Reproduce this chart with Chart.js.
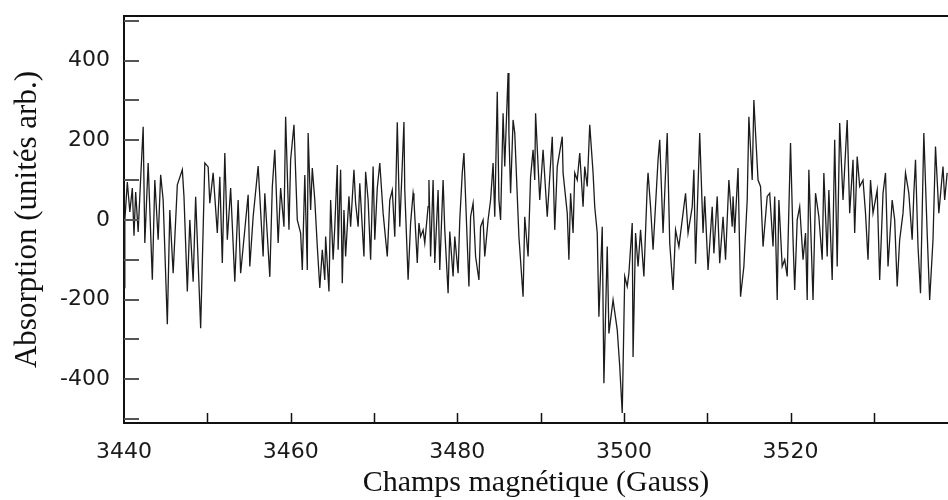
<!DOCTYPE html>
<html>
<head>
<meta charset="utf-8">
<script src="https://cdn.jsdelivr.net/npm/chart.js@4.4.1/dist/chart.umd.min.js"></script>
<style>
  html, body { margin: 0; padding: 0; background: #fff; }
  #wrap { width: 948px; height: 500px; }
</style>
</head>
<body>
<div id="wrap"><canvas id="myChart"></canvas></div>
<script>
// magnetic field (Gauss)
const field = [
  3440.0,3440.1,3440.4,3440.7,3441.0,3441.2,3441.4,3441.7,3441.9,3442.3,
  3442.5,3442.9,3443.4,3443.7,3444.1,3444.4,3444.7,3445.2,3445.5,3445.9,
  3446.4,3447.0,3447.2,3447.6,3447.9,3448.3,3448.6,3449.2,3449.7,3450.1,
  3450.3,3450.7,3451.2,3451.5,3451.8,3452.1,3452.4,3452.8,3453.3,3453.7,
  3454.0,3454.9,3455.1,3455.5,3456.1,3456.7,3456.9,3457.5,3457.8,3458.1,
  3458.5,3458.8,3459.2,3459.4,3459.8,3460.0,3460.4,3460.8,3461.2,3461.4,
  3461.7,3462.0,3462.1,3462.4,3462.6,3462.9,3463.2,3463.5,3463.8,3464.1,
  3464.2,3464.6,3464.8,3465.1,3465.3,3465.6,3465.7,3466.0,3466.2,3466.4,
  3466.6,3467.0,3467.2,3467.6,3467.8,3468.1,3468.3,3468.8,3469.0,3469.3,
  3469.6,3469.9,3470.1,3470.4,3470.7,3471.1,3471.6,3471.9,3472.2,3472.5,
  3472.8,3473.1,3473.4,3473.6,3473.7,3474.1,3474.4,3474.7,3474.8,3475.2,
  3475.4,3475.6,3475.9,3476.1,3476.5,3476.6,3476.8,3477.1,3477.3,3477.7,
  3477.9,3478.3,3478.5,3478.9,3479.1,3479.5,3479.7,3480.1,3480.3,3480.6,
  3480.8,3481.2,3481.4,3481.6,3481.9,3482.2,3482.6,3482.8,3483.1,3483.3,
  3483.7,3484.0,3484.3,3484.5,3484.8,3485.0,3485.2,3485.5,3485.7,3486.1,
  3486.2,3486.4,3486.7,3486.9,3487.4,3487.9,3488.1,3488.5,3488.8,3489.1,
  3489.3,3489.4,3489.9,3490.3,3490.8,3491.4,3491.7,3492.0,3492.6,3492.7,
  3493.2,3493.4,3493.6,3493.9,3494.1,3494.4,3494.7,3495.1,3495.3,3495.6,
  3495.9,3496.3,3496.5,3496.8,3497.0,3497.4,3497.6,3498.0,3498.2,3498.7,
  3499.2,3499.5,3499.8,3500.1,3500.4,3500.6,3501.0,3501.1,3501.4,3501.7,
  3502.0,3502.4,3502.8,3502.9,3503.2,3503.5,3503.7,3504.1,3504.3,3504.7,
  3505.2,3505.5,3505.9,3506.2,3506.6,3507.1,3507.4,3507.7,3508.2,3508.4,
  3508.6,3509.1,3509.5,3509.7,3510.1,3510.6,3510.8,3511.2,3511.5,3511.9,
  3512.2,3512.6,3513.0,3513.1,3513.3,3513.7,3514.0,3514.4,3514.8,3515.0,
  3515.4,3515.6,3515.8,3516.1,3516.4,3516.7,3517.2,3517.5,3517.9,3518.1,
  3518.4,3518.6,3519.0,3519.3,3519.6,3520.0,3520.3,3520.5,3520.8,3521.1,
  3521.5,3521.8,3522.0,3522.2,3522.7,3523.0,3523.4,3523.8,3524.0,3524.4,
  3524.6,3525.0,3525.3,3525.6,3525.9,3526.3,3526.8,3527.1,3527.5,3527.7,
  3528.0,3528.3,3528.7,3529.0,3529.3,3529.6,3529.9,3530.4,3530.7,3531.1,
  3531.4,3531.7,3532.2,3532.5,3532.8,3533.1,3533.5,3533.8,3534.2,3534.6,
  3534.8,3535.0,3535.3,3535.6,3536.0,3536.4,3536.7,3537.1,3537.4,3537.8,
  3538.3,3538.5,3538.8
];

// absorption (arb. units)
const absorption = [
  -170,0,95,20,80,-40,70,-30,60,234,
  -58,143,-150,100,-50,113,50,-262,25,-134,
  88,126,58,-180,0,-155,58,-272,143,133,
  42,118,-33,108,-108,168,-50,80,-155,50,
  -134,63,-117,8,135,-92,67,-143,83,176,
  -58,80,-17,259,-25,151,239,0,-33,-126,
  113,-126,218,25,130,50,-67,-171,-75,-151,
  -42,-180,50,-100,-17,138,-75,126,-159,25,
  -92,59,-17,126,42,-17,92,-92,121,50,
  -100,134,-50,80,143,17,-92,50,75,-42,
  245,-17,138,246,75,-150,-8,67,50,-108,
  -8,-42,-25,-58,33,100,-92,100,-108,75,
  -126,100,-25,-184,-29,-142,-42,-134,0,118,
  168,-58,-167,8,42,-92,-151,-17,0,-92,
  0,50,143,8,322,50,0,268,134,369,
  218,67,251,218,-42,-193,8,-92,108,176,
  100,268,50,176,8,209,-25,134,209,118,
  17,-100,67,-33,118,100,168,33,134,84,
  239,118,33,-33,-243,-17,-410,-67,-285,-201,
  -276,-368,-485,-142,-167,-134,-8,-344,-33,-117,
  -25,-142,84,118,33,-75,0,151,201,-33,
  218,-58,-176,-25,-67,17,67,-33,33,126,
  -110,218,-33,59,-126,33,-84,59,-109,8,
  -100,100,-17,59,-33,130,-193,-117,50,259,
  100,301,218,100,84,-67,59,67,-67,59,
  -201,50,-117,-100,-142,193,-50,-176,0,33,
  -100,-33,-201,126,-201,67,8,-100,118,-92,
  75,-151,201,-117,243,50,251,17,151,-33,
  159,84,100,17,-100,100,17,75,-151,67,
  118,-117,50,0,-167,-50,17,118,67,-50,
  67,151,-67,-184,218,-33,-201,-50,184,17,
  134,50,118
];

const xTickLabels = [3440, 3460, 3480, 3500, 3520];
const yTickLabels = [-400, -200, 0, 200, 400];

const xTitle = 'Champs magnétique (Gauss)';
const yTitle = 'Absorption (unités arb.)';

// inward tick marks + top frame line
const innerTicks = {
  id: 'innerTicks',
  afterDraw(chart) {
    const { ctx, chartArea: a, scales: { x, y } } = chart;
    ctx.save();
    ctx.strokeStyle = '#111';
    ctx.lineWidth = 2;
    ctx.beginPath();
    ctx.moveTo(a.left, a.top);
    ctx.lineTo(a.right, a.top);
    ctx.stroke();

    ctx.lineWidth = 1.5;
    ctx.beginPath();
    x.ticks.forEach(t => {
      const px = Math.round(x.getPixelForValue(t.value)) + 0.5;
      if (px < a.left + 3) return;
      ctx.moveTo(px, a.bottom);
      ctx.lineTo(px, a.bottom - 10);
    });
    ctx.stroke();

    ctx.strokeStyle = '#555';
    ctx.lineWidth = 2;
    ctx.beginPath();
    y.ticks.forEach(t => {
      const py = Math.round(y.getPixelForValue(t.value));
      ctx.moveTo(a.left, py);
      ctx.lineTo(a.left + 15, py);
    });
    ctx.stroke();
    ctx.restore();
  }
};

const ctx = document.getElementById('myChart');
const myChart = new Chart(ctx, {
  type: 'line',
  data: {
    datasets: [{
      label: 'Absorption',
      data: field.map((f, i) => ({ x: f, y: absorption[i] })),
      borderColor: '#1c1c1c',
      borderWidth: 1.3,
      pointRadius: 0,
      tension: 0,
      fill: false
    }]
  },
  options: {
    responsive: true,
    maintainAspectRatio: false,
    animation: false,
    layout: { padding: { top: 16, right: 0, left: 0, bottom: 0 } },
    plugins: {
      legend: { display: false },
      tooltip: { enabled: false }
    },
    scales: {
      x: {
        type: 'linear',
        min: 3440,
        max: 3538.9,
        grid: { display: false, drawTicks: false },
        border: { display: true, color: '#111', width: 2 },
        ticks: {
          stepSize: 10,
          includeBounds: false,
          maxRotation: 0,
          autoSkip: false,
          padding: 16,
          color: '#1a1a1a',
          font: { family: 'DejaVu Sans', size: 22 },
          callback: v => xTickLabels.includes(v) ? String(v) : ''
        },
        title: {
          display: true,
          text: xTitle,
          color: '#111',
          font: { family: 'Liberation Serif', size: 30, lineHeight: 1 },
          padding: { top: 0, bottom: 2 }
        },
        afterFit: s => { s.height = 77; s.paddingLeft = 0; s.paddingRight = 0; }
      },
      y: {
        min: -510,
        max: 512,
        grid: { display: false, drawTicks: false },
        border: { display: true, color: '#111', width: 2 },
        ticks: {
          stepSize: 100,
          includeBounds: false,
          autoSkip: false,
          padding: 14,
          color: '#1a1a1a',
          font: { family: 'DejaVu Sans', size: 22 },
          callback: v => yTickLabels.includes(v) ? String(v) : ''
        },
        title: {
          display: true,
          text: yTitle,
          color: '#111',
          font: { family: 'Liberation Serif', size: 31, lineHeight: 1 },
          padding: { top: 12, bottom: 0 }
        },
        afterFit: s => { s.width = 124; s.paddingTop = 0; s.paddingBottom = 0; }
      }
    }
  },
  plugins: [innerTicks]
});
</script>
</body>
</html>
